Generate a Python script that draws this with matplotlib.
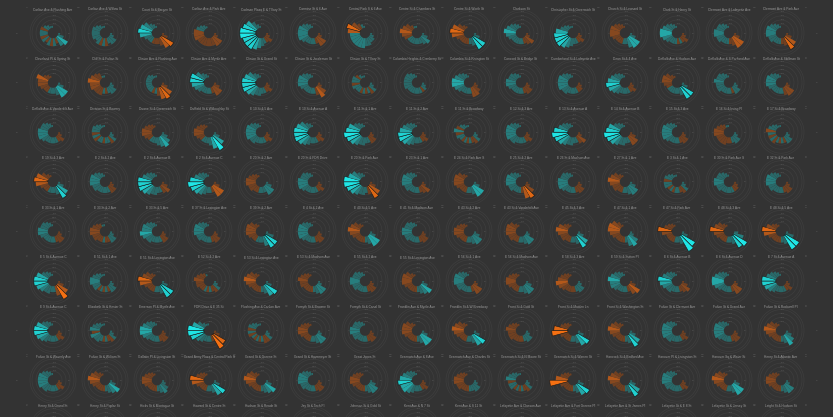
import numpy as np
import matplotlib
matplotlib.use("Agg")
import matplotlib.pyplot as plt

# ---------- THEME ----------
BG = "#333333"
TEAL_LO = np.array([0.16, 0.41, 0.41])
TEAL_HI = np.array([0.12, 0.90, 0.90])
ORANGE_LO = np.array([0.44, 0.25, 0.13])
ORANGE_HI = np.array([0.96, 0.44, 0.07])
HOLE = 2.6

HOURS = list(range(24))
HOUR_LABELS = ["", "03", "06", "09", "12", "15", "18", "21"]
RING_LABELS = ["100", "200", "300", "400"]

# ---------- DATA (one list per station, hour 0..23, + teal / - orange) ----------
row1_titles = ["Carlton Ave & Flushing Ave", "Carlton Ave & Willow St", "Court St & Bergen St",
               "Carlton Ave & Park Ave", "Cadman Plaza E & Tillary St", "Carmine St & 6 Ave",
               "Central Park S & 6 Ave", "Centre St & Chambers St", "Centre St & Worth St",
               "Clarkson St", "Christopher St & Greenwich St", "Church St & Leonard St",
               "Clark St & Henry St", "Clermont Ave & Lafayette Ave", "Clermont Ave & Park Ave"]
row1_values = [
    [0,0,0,0,0,0,1,3,6,5,-3,4,-4,4,-3,4,-4,4,4,-4,3,2,1,1],
    [0,0,0,0,0,0,1,2,4,4,3,-4,4,-4,4,3,4,4,4,4,3,2,1,1],
    [0,0,0,0,0,0,-1,-3,-7,-6,-4,-3,-3,-3,3,3,4,6,7,6,5,3,2,1],
    [0,0,0,0,0,0,-1,-2,-5,-5,-4,-4,-4,-4,-4,-4,-5,-5,-5,4,3,2,1,0],
    [0,0,0,0,0,0,-1,-2,-4,-3,3,4,5,6,7,7,7,8,8,7,6,4,2,1],
    [0,0,0,0,0,0,-1,-2,-5,-5,-3,3,3,3,3,4,5,5,5,5,4,3,2,1],
    [0,0,0,0,0,0,1,2,3,3,4,4,5,5,5,5,5,5,-6,-7,-5,-3,2,1],
    [0,0,0,0,0,0,1,3,5,4,3,3,3,3,3,3,-4,-5,-6,-5,-4,-2,1,1],
    [0,0,0,0,0,0,1,3,7,7,4,3,-3,-3,-3,-3,-4,-6,-7,-6,-4,-2,-1,0],
    [0,0,0,0,0,0,-1,-2,-5,-4,-3,3,3,3,3,3,4,5,6,5,4,3,2,1],
    [0,0,0,0,0,0,-1,-2,-4,-3,3,3,4,5,6,7,7,7,6,4,3,2,1,1],
    [0,0,0,0,0,0,1,3,6,6,5,3,3,-3,-3,-3,-4,-5,-5,-5,-4,-3,-2,-1],
    [0,0,0,0,0,0,-1,-2,-4,-3,3,-3,3,3,3,4,5,6,6,5,4,3,2,1],
    [0,0,0,0,0,0,-1,-3,-6,-6,-4,-3,3,3,3,4,4,5,5,4,4,3,2,1],
    [0,0,0,0,0,0,-1,-3,-6,-7,-4,-3,3,3,3,4,4,5,5,5,4,3,2,1],
]

row2_titles = ["Cleveland Pl & Spring St", "Cliff St & Fulton St", "Clinton Ave & Flushing Ave",
               "Clinton Ave & Myrtle Ave", "Clinton St & Grand St", "Clinton St & Joralemon St",
               "Clinton St & Tillary St", "Columbia Heights & Cranberry St", "Columbia St & Rivington St",
               "Concord St & Bridge St", "Cumberland St & Lafayette Ave", "Dean St & 4 Ave",
               "DeKalb Ave & Hudson Ave", "DeKalb Ave & S Portland Ave", "DeKalb Ave & Skillman St"]
row2_values = [
    [0,0,0,0,0,0,1,3,6,6,4,3,3,3,-3,-3,-4,-5,-5,-6,-3,-2,-1,0],
    [0,0,0,0,0,0,1,2,4,4,3,-3,3,-4,-4,-4,-5,-5,-6,-5,-4,-3,1,1],
    [0,0,0,0,0,0,-1,-3,-6,-7,-6,-4,3,-3,3,3,3,3,3,3,3,2,1,1],
    [0,0,0,0,0,0,-1,-3,-5,-5,-3,3,3,3,3,4,5,6,7,7,5,3,2,1],
    [0,0,0,0,0,0,-1,-2,-4,-3,3,3,4,4,5,6,7,7,7,6,5,3,2,1],
    [0,0,0,0,0,0,-1,-2,-5,-6,-4,3,3,3,3,3,4,5,5,5,4,3,2,1],
    [0,0,0,0,0,0,1,2,4,-4,3,-3,3,-3,3,3,4,-4,4,4,-3,2,1,1],
    [0,0,0,0,0,0,1,2,3,-3,3,3,3,3,3,3,4,4,4,4,4,3,2,1],
    [0,0,0,0,0,0,-1,-2,-4,-5,-5,3,3,3,3,4,5,6,6,5,4,3,2,1],
    [0,0,0,0,0,0,-1,-2,-4,-4,-3,3,3,3,3,3,4,5,5,4,4,3,2,1],
    [0,0,0,0,0,0,-1,-2,-3,-3,3,3,3,3,4,4,5,5,5,5,4,3,2,1],
    [0,0,0,0,0,0,-1,-2,-4,-3,3,3,3,3,4,5,6,7,6,5,4,3,2,1],
    [0,0,0,0,0,0,1,3,7,7,4,3,3,3,3,3,-3,-4,-5,-5,-4,-2,-1,0],
    [0,0,0,0,0,0,1,2,4,4,-3,3,3,3,3,4,4,4,5,4,4,3,2,1],
    [0,0,0,0,0,0,-1,-2,-5,-5,-4,3,3,3,3,3,4,5,5,5,4,3,2,1],
]

row3_titles = ["DeKalb Ave & Vanderbilt Ave", "Division St & Bowery", "Duane St & Greenwich St",
               "Duffield St & Willoughby St", "E 10 St & 5 Ave", "E 10 St & Avenue A",
               "E 11 St & 1 Ave", "E 11 St & 2 Ave", "E 11 St & Broadway", "E 12 St & 3 Ave",
               "E 13 St & Avenue A", "E 14 St & Avenue B", "E 15 St & 3 Ave",
               "E 16 St & Irving Pl", "E 17 St & Broadway"]
row3_values = [
    [0,0,0,0,0,0,-1,-2,-4,-3,3,3,3,3,3,4,5,5,5,4,4,3,2,1],
    [0,0,0,0,0,0,1,2,4,-4,3,3,-3,3,3,-4,4,-4,4,4,3,2,1,1],
    [0,0,0,0,0,0,1,3,5,6,5,4,3,3,3,-3,-4,-5,-5,-4,-3,-2,-1,0],
    [0,0,0,0,0,0,1,3,6,8,6,4,3,3,3,-3,-4,-5,-5,-4,-3,-2,-1,0],
    [0,0,0,0,0,0,-1,-2,-4,-3,3,3,3,3,4,4,5,5,5,5,4,3,2,1],
    [0,0,0,0,0,0,-1,-2,-4,-3,3,3,3,4,5,6,7,7,7,6,5,3,2,1],
    [0,0,0,0,0,0,-1,-2,-4,-4,3,3,4,4,5,6,7,8,7,6,4,3,2,1],
    [0,0,0,0,0,0,-1,-2,-4,-3,3,3,3,4,5,6,7,7,6,5,4,3,2,1],
    [0,0,0,0,0,0,1,2,4,-4,-3,3,-3,3,-3,3,4,-4,5,-4,3,2,1,1],
    [0,0,0,0,0,0,-1,-2,-4,-3,3,3,3,3,4,4,5,5,5,5,4,3,2,1],
    [0,0,0,0,0,0,-1,-2,-5,-4,3,3,4,4,5,6,7,8,7,5,4,3,2,1],
    [0,0,0,0,0,0,-1,-3,-5,-5,3,3,4,4,5,6,7,8,7,6,4,3,2,1],
    [0,0,0,0,0,0,-1,-2,-4,-4,-3,3,3,3,3,4,5,5,5,5,4,3,2,1],
    [0,0,0,0,0,0,1,2,4,4,3,-3,-3,-4,-4,-4,-4,-5,-5,-4,-3,-2,1,1],
    [0,0,0,0,0,0,1,2,4,4,-3,3,-3,3,-4,4,-4,4,-5,4,3,2,1,1],
]

row4_titles = ["E 19 St & 3 Ave", "E 2 St & 2 Ave", "E 2 St & Avenue B", "E 2 St & Avenue C",
               "E 20 St & 2 Ave", "E 20 St & FDR Drive", "E 20 St & Park Ave", "E 23 St & 1 Ave",
               "E 24 St & Park Ave S", "E 25 St & 2 Ave", "E 26 St & Madison Ave", "E 27 St & 1 Ave",
               "E 3 St & 1 Ave", "E 30 St & Park Ave S", "E 32 St & Park Ave"]
row4_values = [
    [0,0,0,0,0,0,1,3,6,7,4,3,3,3,-3,-3,-4,-6,-7,-6,-4,-2,-1,0],
    [0,0,0,0,0,0,-1,-2,-4,-4,3,3,3,3,3,4,4,5,5,5,4,3,2,1],
    [0,0,0,0,0,0,-1,-3,-5,-4,3,3,4,4,5,6,7,7,7,5,4,3,2,1],
    [0,0,0,0,0,0,-1,-3,-6,-6,-3,3,3,4,5,6,7,8,7,5,4,3,2,1],
    [0,0,0,0,0,0,1,3,5,5,3,3,3,-3,-3,-4,-4,-5,-5,-4,-3,-2,-1,0],
    [0,0,0,0,0,0,-1,-2,-4,-3,3,3,3,3,3,4,5,5,5,4,4,3,2,1],
    [0,0,0,0,0,0,-1,-3,-6,-7,-4,3,4,4,5,6,7,8,8,6,5,3,2,1],
    [0,0,0,0,0,0,-1,-2,-5,-4,-3,3,3,3,3,4,4,5,5,5,4,3,2,1],
    [0,0,0,0,0,0,1,3,6,6,4,3,3,-3,-3,-3,-4,-5,-5,-5,-4,-2,-1,0],
    [0,0,0,0,0,0,-1,-2,-5,-7,-6,-3,3,3,3,4,4,5,5,5,4,3,2,1],
    [0,0,0,0,0,0,-1,-2,-4,-4,-3,3,3,3,3,4,5,5,5,4,4,3,2,1],
    [0,0,0,0,0,0,1,3,5,5,4,3,3,-3,-3,-4,-4,-5,-6,-5,-4,-2,-1,0],
    [0,0,0,0,0,0,1,2,4,-4,-3,3,3,-3,3,-3,4,4,-4,4,3,2,1,1],
    [0,0,0,0,0,0,-1,-2,-3,-3,3,3,3,3,3,4,4,5,5,4,4,3,2,1],
    [0,0,0,0,0,0,-1,-2,-4,-4,-3,3,3,3,3,4,4,5,5,5,4,3,2,1],
]

row5_titles = ["E 33 St & 1 Ave", "E 33 St & 2 Ave", "E 33 St & 5 Ave", "E 37 St & Lexington Ave",
               "E 39 St & 2 Ave", "E 4 St & 2 Ave", "E 40 St & 5 Ave", "E 41 St & Madison Ave",
               "E 43 St & 2 Ave", "E 43 St & Vanderbilt Ave", "E 45 St & 3 Ave", "E 47 St & 1 Ave",
               "E 47 St & Park Ave", "E 48 St & 3 Ave", "E 48 St & 5 Ave"]
row5_values = [
    [0,0,0,0,0,0,-1,-2,-4,-4,-3,3,3,3,3,3,4,5,5,4,4,3,2,1],
    [0,0,0,0,0,0,1,2,4,4,-3,-3,3,-3,-3,-4,-4,-5,-5,-4,-3,-2,1,1],
    [0,0,0,0,0,0,-1,-2,-4,-4,3,3,3,3,4,4,5,6,5,5,4,3,2,1],
    [0,0,0,0,0,0,-1,-2,-4,-4,-3,3,3,3,3,4,4,5,5,5,4,3,2,1],
    [0,0,0,0,0,0,1,4,7,7,5,3,3,3,-3,-3,-4,-5,-5,-5,-4,-2,-1,0],
    [0,0,0,0,0,0,-1,-2,-4,-4,-3,3,3,3,3,4,5,5,5,5,4,3,2,1],
    [0,0,0,0,0,0,1,3,6,6,4,3,-3,-3,-3,-3,-4,-5,-6,-5,-4,-2,-1,0],
    [0,0,0,0,0,0,-1,-2,-4,-4,-3,3,3,3,3,4,4,5,5,4,4,3,2,1],
    [0,0,0,0,0,0,1,3,5,5,4,3,3,-3,-3,-3,-4,-5,-5,-4,-3,-2,-1,0],
    [0,0,0,0,0,0,1,2,5,5,4,3,3,-3,-3,-4,-4,-5,-5,-5,-4,-2,-1,0],
    [0,0,0,0,0,0,1,3,6,7,4,3,3,-3,-3,-4,-4,-5,-6,-5,-3,-2,-1,0],
    [0,0,0,0,0,0,1,2,5,6,5,3,-3,-3,-3,-3,-4,-5,-6,-6,-5,-3,-1,0],
    [0,0,0,0,0,0,1,3,8,9,4,3,3,-3,-3,-3,-3,-5,-7,-4,-3,-2,-1,0],
    [0,0,0,0,0,0,2,5,8,7,4,3,3,-3,-3,-3,-4,-5,-7,-5,-4,-2,-1,0],
    [0,0,0,0,0,0,1,4,8,8,4,3,-3,-3,-3,-3,-4,-6,-7,-5,-3,-2,-1,0],
]

row6_titles = ["E 5 St & Avenue C", "E 51 St & 1 Ave", "E 51 St & Lexington Ave", "E 52 St & 2 Ave",
               "E 53 St & Lexington Ave", "E 53 St & Madison Ave", "E 55 St & 2 Ave",
               "E 55 St & Lexington Ave", "E 56 St & 1 Ave", "E 56 St & Madison Ave",
               "E 58 St & 3 Ave", "E 59 St & Sutton Pl", "E 6 St & Avenue B", "E 6 St & Avenue D",
               "E 7 St & Avenue A"]
row6_values = [
    [0,0,0,0,0,0,-1,-3,-6,-8,-5,3,3,4,4,5,6,7,7,6,4,3,2,1],
    [0,0,0,0,0,0,1,2,4,4,-3,3,-3,3,-3,4,4,5,5,4,3,2,1,1],
    [0,0,0,0,0,0,1,3,7,7,4,3,3,-3,-3,-3,-4,-6,-7,-5,-4,-2,-1,0],
    [0,0,0,0,0,0,1,2,4,-4,-3,3,-3,3,-3,-3,-4,-4,-5,-4,-3,-2,1,0],
    [0,0,0,0,0,0,1,3,7,6,4,3,-3,-3,-3,-3,-4,-5,-6,-5,-4,-2,-1,0],
    [0,0,0,0,0,0,1,2,5,5,4,3,-3,-3,-3,-3,-4,-4,-5,-4,-3,-2,-1,0],
    [0,0,0,0,0,0,-1,-2,-4,-4,-3,3,3,3,3,4,4,5,5,4,4,3,2,1],
    [0,0,0,0,0,0,1,3,6,5,4,3,-3,-3,-3,-3,-4,-5,-5,-5,-4,-2,-1,0],
    [0,0,0,0,0,0,-1,-2,-5,-5,-3,3,3,3,3,4,4,5,5,5,4,3,2,1],
    [0,0,0,0,0,0,1,3,5,5,4,3,3,-3,-3,-3,-4,-5,-5,-4,-3,-2,-1,0],
    [0,0,0,0,0,0,1,2,4,4,3,-3,-3,-3,-3,-4,-5,-6,-5,-4,-3,-2,-1,0],
    [0,0,0,0,0,0,-1,-3,-6,-5,-3,3,3,3,3,4,5,5,6,5,4,3,2,1],
    [0,0,0,0,0,0,-1,-3,-5,-4,-3,3,3,3,4,4,5,6,7,5,4,3,2,1],
    [0,0,0,0,0,0,-1,-2,-5,-5,-3,3,3,3,3,4,5,6,6,5,4,3,2,1],
    [0,0,0,0,0,0,-1,-2,-4,-3,3,3,3,3,4,5,6,7,7,5,4,3,2,1],
]

row7_titles = ["E 9 St & Avenue C", "Elizabeth St & Hester St", "Emerson Pl & Myrtle Ave",
               "FDR Drive & E 35 St", "Flushing Ave & Carlton Ave", "Forsyth St & Broome St",
               "Forsyth St & Canal St", "Franklin Ave & Myrtle Ave", "Franklin St & W Broadway",
               "Front St & Gold St", "Front St & Maiden Ln", "Front St & Washington St",
               "Fulton St & Clermont Ave", "Fulton St & Grand Ave", "Fulton St & Rockwell Pl"]
row7_values = [
    [0,0,0,0,0,0,-1,-2,-4,-3,3,3,3,3,4,5,6,7,7,6,4,3,2,1],
    [0,0,0,0,0,0,1,2,4,-4,-3,3,-3,3,4,4,5,-4,5,4,3,2,1,1],
    [0,0,0,0,0,0,-1,-2,-4,-4,-3,3,3,3,3,4,5,6,6,5,4,3,2,1],
    [0,0,0,0,0,0,-1,-3,-7,-8,-3,3,3,3,4,5,7,8,8,6,4,2,1,1],
    [0,0,0,0,0,0,1,2,4,-4,-4,3,-3,3,-3,3,-4,4,-4,4,3,2,1,1],
    [0,0,0,0,0,0,1,2,5,5,4,3,3,-3,-3,-3,-4,-5,-5,-4,-3,-2,-1,0],
    [0,0,0,0,0,0,-1,-2,-4,-4,-3,3,3,3,3,4,4,5,5,4,4,3,2,1],
    [0,0,0,0,0,0,1,3,6,6,4,3,-3,-3,-3,-3,-4,-5,-5,-5,-4,-2,-1,0],
    [0,0,0,0,0,0,1,3,7,6,4,3,3,-3,-3,-3,-4,-5,-6,-5,-4,-2,-1,0],
    [0,0,0,0,0,0,1,2,4,4,3,-3,-3,-3,-3,-4,-4,-4,-5,-4,-3,-2,-1,0],
    [0,0,0,0,0,0,1,3,7,6,4,3,3,-3,-3,-3,-4,-8,-7,-4,-3,-2,-1,0],
    [0,0,0,0,0,0,1,3,6,7,4,3,-3,-3,-3,-3,-4,-5,-6,-5,-4,-2,-1,0],
    [0,0,0,0,0,0,-1,-2,-4,-3,3,3,3,3,4,4,5,5,5,5,4,3,2,1],
    [0,0,0,0,0,0,-1,-2,-4,-4,-3,3,3,3,3,4,5,5,5,5,4,3,2,1],
    [0,0,0,0,0,0,1,3,5,6,4,3,-3,-3,-3,-3,-4,-5,-6,-5,-4,-2,-1,0],
]

row8_titles = ["Fulton St & Waverly Ave", "Fulton St & William St", "Gallatin Pl & Livingston St",
               "Grand Army Plaza & Central Park S", "Grand St & Greene St", "Grand St & Havemeyer St",
               "Great Jones St", "Greenwich Ave & 8 Ave", "Greenwich Ave & Charles St",
               "Greenwich St & N Moore St", "Greenwich St & Warren St", "Hancock St & Bedford Ave",
               "Hanover Pl & Livingston St", "Hanover Sq & Water St", "Henry St & Atlantic Ave"]
row8_values = [
    [0,0,0,0,0,0,-1,-2,-4,-3,3,3,3,3,4,4,5,5,5,5,4,3,2,1],
    [0,0,0,0,0,0,1,3,6,5,4,3,-3,-3,-3,-3,-4,-5,-6,-5,-4,-2,-1,0],
    [0,0,0,0,0,0,1,2,4,5,4,3,-3,-3,-3,-3,-4,-5,-5,-4,-3,-2,-1,0],
    [0,0,0,0,0,0,1,3,7,6,4,3,3,-3,-3,-3,-4,-6,-7,-4,-3,-2,-1,0],
    [0,0,0,0,0,0,1,3,6,5,4,3,-3,-3,-3,-3,-4,-5,-6,-5,-4,-2,-1,0],
    [0,0,0,0,0,0,-1,-2,-4,-4,-3,3,3,3,3,4,4,5,5,5,4,3,2,1],
    [0,0,0,0,0,0,1,3,5,5,4,3,-3,-3,-3,-3,-4,-5,-5,-4,-3,-2,-1,0],
    [0,0,0,0,0,0,-1,-2,-4,-3,3,3,3,4,5,6,6,7,6,5,4,3,2,1],
    [0,0,0,0,0,0,1,2,4,4,3,3,-3,-3,-3,-4,-4,-5,-5,-4,-3,-2,-1,0],
    [0,0,0,0,0,0,1,2,4,-4,-3,3,-3,3,-3,4,4,-4,5,4,3,2,1,1],
    [0,0,0,0,0,0,1,3,7,6,4,3,-3,-3,-3,-3,-4,-9,-6,-4,-3,-2,-1,0],
    [0,0,0,0,0,0,1,3,6,7,4,3,-3,-3,-3,-3,-4,-5,-6,-5,-4,-2,-1,0],
    [0,0,0,0,0,0,-1,-2,-4,-3,3,3,3,3,3,4,4,5,5,5,4,3,2,1],
    [0,0,0,0,0,0,1,3,6,6,4,3,3,-3,-3,-3,-4,-5,-6,-5,-4,-2,-1,0],
    [0,0,0,0,0,0,1,2,5,5,4,3,-3,-3,-3,-3,-4,-5,-5,-4,-3,-2,-1,0],
]

row9_titles = ["Henry St & Grand St", "Henry St & Poplar St", "Hicks St & Montague St",
               "Howard St & Centre St", "Hudson St & Reade St", "Jay St & Tech Pl",
               "Johnson St & Gold St", "Kent Ave & N 7 St", "Kent Ave & S 11 St",
               "Lafayette Ave & Classon Ave", "Lafayette Ave & Fort Greene Pl",
               "Lafayette Ave & St James Pl", "Lafayette St & E 8 St", "Lafayette St & Jersey St",
               "Laight St & Hudson St"]
row9_values = [
    [0,0,0,0,0,0,-1,-2,-4,-3,3,3,3,3,4,4,5,5,5,5,4,3,2,1],
    [0,0,0,0,0,0,1,2,4,4,3,-3,-3,-3,-3,-4,-4,-5,-5,-4,-3,-2,1,0],
    [0,0,0,0,0,0,-1,-2,-4,-4,-3,3,3,3,3,4,4,5,5,5,4,3,2,1],
    [0,0,0,0,0,0,1,3,6,6,4,3,-3,-3,-3,-3,-4,-5,-6,-5,-4,-2,-1,0],
    [0,0,0,0,0,0,1,3,5,5,4,3,3,-3,-3,-3,-4,-5,-5,-4,-3,-2,-1,0],
    [0,0,0,0,0,0,-1,-2,-4,-4,3,3,3,3,3,4,5,5,5,5,4,3,2,1],
    [0,0,0,0,0,0,-1,-2,-4,-3,3,3,3,3,4,4,5,5,5,4,4,3,2,1],
    [0,0,0,0,0,0,1,2,4,4,-3,3,-3,3,-3,4,4,5,5,4,3,2,1,1],
    [0,0,0,0,0,0,-1,-2,-4,-4,-3,3,3,3,3,4,4,5,5,5,4,3,2,1],
    [0,0,0,0,0,0,-1,-2,-4,-3,3,3,3,3,3,4,4,5,5,4,4,3,2,1],
    [0,0,0,0,0,0,-1,-2,-5,-4,-3,3,3,3,3,4,4,5,5,5,4,3,2,1],
    [0,0,0,0,0,0,-1,-2,-4,-4,3,3,3,3,4,4,5,5,5,5,4,3,2,1],
    [0,0,0,0,0,0,1,3,6,5,4,3,-3,-3,-3,-3,-4,-5,-5,-5,-4,-2,-1,0],
    [0,0,0,0,0,0,1,3,5,5,4,3,-3,-3,-3,-3,-4,-5,-6,-5,-4,-2,-1,0],
    [0,0,0,0,0,0,1,3,6,6,4,3,3,-3,-3,-3,-4,-5,-5,-4,-3,-2,-1,0],
]

rows = [(row1_titles, row1_values), (row2_titles, row2_values), (row3_titles, row3_values),
        (row4_titles, row4_values), (row5_titles, row5_values), (row6_titles, row6_values),
        (row7_titles, row7_values), (row8_titles, row8_values), (row9_titles, row9_values)]


def bar_color(v):
    t = np.clip((abs(v) - 4.5) / 3.0, 0, 1)
    lo, hi = (TEAL_LO, TEAL_HI) if v >= 0 else (ORANGE_LO, ORANGE_HI)
    return tuple(lo + (hi - lo) * t), t


# ---------- LAYOUT ----------
W, H = 833, 417
fig = plt.figure(figsize=(W / 100, H / 100), dpi=100)
fig.patch.set_facecolor(BG)

R = 23  # axes radius in px
theta = np.array(HOURS) * 2 * np.pi / 24 + np.pi / 24

for i, (titles, values) in enumerate(rows):
    cy = 33 + 49.6 * i
    for j, (title, vals) in enumerate(zip(titles, values)):
        cx = 53 + 52 * j
        ax = fig.add_axes([(cx - R) / W, 1 - (cy + R) / H, 2 * R / W, 2 * R / H],
                          projection="polar")
        ax.set_facecolor("none")
        ax.set_theta_zero_location("N")
        ax.set_theta_direction(-1)

        cols, strong = zip(*[bar_color(v) for v in vals])
        edges = ["#161616" if s > 0.75 else "none" for s in strong]
        heights = [abs(v) for v in vals]
        ax.bar(theta, heights, width=2 * np.pi / 24, bottom=HOLE, color=cols,
               edgecolor=edges, linewidth=0.4, clip_on=False, zorder=3)

        ax.set_ylim(0, 11.5)
        ax.set_yticks([4.5, 6.5, 8.5, 10.5])
        ax.set_yticklabels(RING_LABELS, fontsize=1.5, color="#585858")
        ax.set_rlabel_position(0)
        ax.set_xticks(np.arange(8) * np.pi / 4)
        ax.set_xticklabels(HOUR_LABELS, fontsize=1.5, color="#585858")
        ax.tick_params(axis="x", pad=-1)
        ax.yaxis.grid(True, color="#3e3e3e", linewidth=0.5)
        ax.xaxis.grid(False)
        ax.spines["polar"].set_color("#3e3e3e")
        ax.spines["polar"].set_linewidth(0.5)

        fig.text(cx / W, 1 - (cy - 23.5) / H, title, ha="center", va="center",
                 fontsize=2.3, family=["Liberation Sans", "DejaVu Sans"], color="#9c9c9c")

fig.savefig("out.png", dpi=100, facecolor=BG)
